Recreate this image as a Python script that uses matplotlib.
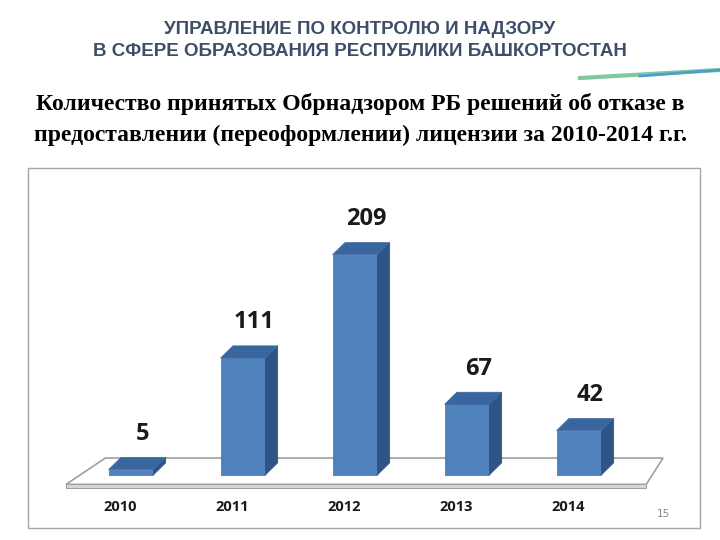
import matplotlib
matplotlib.use("Agg")
import matplotlib.pyplot as plt
from matplotlib.patches import Polygon, Rectangle

years = ["2010", "2011", "2012", "2013", "2014"]
values = [5, 111, 209, 67, 42]

fig = plt.figure(figsize=(7.2, 5.4), dpi=100)
fig.patch.set_facecolor("white")

# header
fig.text(0.5, 1 - 30/540, "УПРАВЛЕНИЕ ПО КОНТРОЛЮ И НАДЗОРУ", ha="center", va="center",
         fontsize=13.5, fontweight="bold", color="#3e4d68", family="Liberation Sans")
fig.text(0.5, 1 - 51/540, "В СФЕРЕ ОБРАЗОВАНИЯ РЕСПУБЛИКИ БАШКОРТОСТАН", ha="center", va="center",
         fontsize=13.5, fontweight="bold", color="#3e4d68", family="Liberation Sans")
fig.add_artist(plt.Line2D([580/720, 1], [1-78/540, 1-70/540], color="#7fc8a0", lw=3))
fig.add_artist(plt.Line2D([640/720, 1], [1-76/540, 1-70/540], color="#4aa0c8", lw=2))
fig.text(0.5, 1 - 104/540, "Количество принятых Обрнадзором РБ решений об отказе в",
         ha="center", va="center", fontsize=17, fontweight="bold", family="Liberation Serif")
fig.text(0.5, 1 - 135/540, "предоставлении (переоформлении) лицензии за 2010-2014 г.г.",
         ha="center", va="center", fontsize=17, fontweight="bold", family="Liberation Serif")

# chart frame
fig.add_artist(Rectangle((28/720, 1-528/540), 672/720, 360/540, transform=fig.transFigure,
                         fill=False, edgecolor="#a6a6a6", lw=1))
fig.text(663/720, 1-514/540, "15", fontsize=7.5, color="#888888", ha="center", va="center")

ax = fig.add_axes([75/720, (540-496)/540, 560/720, 295/540])
ax.set_xlim(-0.5, 4.5)
ax.set_ylim(-20, 260)
ax.axis("off")

dx, dy = 0.11, 11.5
# floor
ax.add_patch(Polygon([(-0.58, -9), (4.6, -9), (4.6 + 0.15, 16), (-0.58 + 0.35, 16)],
                     closed=True, facecolor="white", edgecolor="#a0a0a0", lw=1.2, clip_on=False))
ax.add_patch(Polygon([(-0.58, -9), (4.6, -9), (4.6, -12), (-0.58, -12)],
                     closed=True, facecolor="#d9d9d9", edgecolor="#a0a0a0", lw=0.8, clip_on=False))

w = 0.4
for i, v in enumerate(values):
    x0, x1 = i - w/2, i + w/2
    ax.add_patch(Polygon([(x0, 0), (x1, 0), (x1, v), (x0, v)], facecolor="#4f81bd",
                         edgecolor="#3f6ea8", lw=0.5, clip_on=False))
    ax.add_patch(Polygon([(x1, 0), (x1+dx, dy), (x1+dx, v+dy), (x1, v)], facecolor="#2e5385",
                         edgecolor="#2e5385", lw=0.5, clip_on=False))
    ax.add_patch(Polygon([(x0, v), (x1, v), (x1+dx, v+dy), (x0+dx, v+dy)], facecolor="#3a66a0",
                         edgecolor="#3a66a0", lw=0.5, clip_on=False))
    ax.text(i + 0.1, v + 34, str(v), ha="center", va="center", fontsize=17, fontweight="bold",
            family="Open Sans", color="#1a1a1a")
    ax.text(i - 0.1, -30, years[i], ha="center", va="center", fontsize=10.5, fontweight="bold",
            family="Open Sans", color="#1a1a1a")

fig.savefig("out.png", dpi=100)
